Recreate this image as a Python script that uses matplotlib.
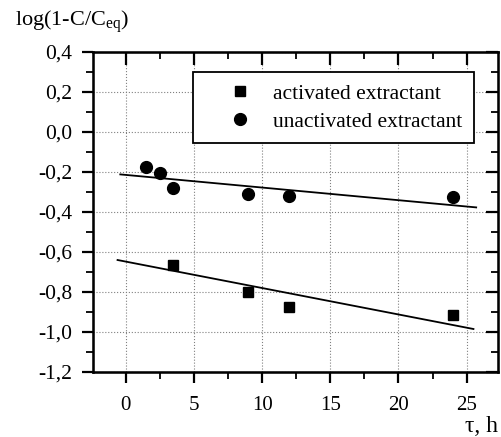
import matplotlib
matplotlib.use('Agg')
import matplotlib.pyplot as plt
from matplotlib.ticker import MultipleLocator, FuncFormatter

plt.rcParams['font.family'] = 'Liberation Serif'

# activated extractant (squares)
act_t = [3.5, 9.0, 12.0, 24.0]
act_y = [-0.665, -0.798, -0.873, -0.915]
act_fit_t = [-0.6, 25.5]
act_fit_y = [-0.64, -0.985]

# unactivated extractant (circles)
unact_t = [1.5, 2.5, 3.5, 9.0, 12.0, 24.0]
unact_y = [-0.173, -0.207, -0.28, -0.31, -0.32, -0.327]
unact_fit_t = [-0.4, 25.7]
unact_fit_y = [-0.212, -0.377]

fig = plt.figure(figsize=(5.01, 4.37), dpi=100)
ax = fig.add_axes([93/501, 1 - 372/437, (498 - 93)/501, (372 - 52)/437])

ax.plot(act_t, act_y, 's', color='black', markersize=7.5, label='activated extractant')
ax.plot(unact_t, unact_y, 'o', color='black', markersize=8.5, label='unactivated extractant')
ax.plot(act_fit_t, act_fit_y, '-', color='black', linewidth=1.3)
ax.plot(unact_fit_t, unact_fit_y, '-', color='black', linewidth=1.3)

ax.set_xlim(-2.4, 27.3)
ax.set_ylim(-1.2, 0.4)
ax.xaxis.set_major_locator(MultipleLocator(5))
ax.xaxis.set_minor_locator(MultipleLocator(2.5))
ax.yaxis.set_major_locator(MultipleLocator(0.2))
ax.yaxis.set_minor_locator(MultipleLocator(0.1))
ax.yaxis.set_major_formatter(FuncFormatter(lambda v, p: f"{v:.1f}".replace('.', ',')))
ax.xaxis.set_major_formatter(FuncFormatter(lambda v, p: f"{v:.0f}"))

ax.grid(True, which='major', linestyle=':', color='gray', linewidth=0.8)
ax.tick_params(which='both', direction='out', top=False, right=False, labelsize=15)
ax.tick_params(axis='x', which='major', pad=9)
ax.tick_params(axis='y', which='major', pad=7, labelsize=15.5)
ax.tick_params(which='major', length=8, width=1.6)
ax.tick_params(which='minor', length=5, width=1.3)
for s in ax.spines.values():
    s.set_linewidth(1.8)

# inward ticks on top and right
ax2 = ax.twinx()
ax2.set_ylim(ax.get_ylim())
ax2.yaxis.set_major_locator(MultipleLocator(0.2))
ax2.yaxis.set_minor_locator(MultipleLocator(0.1))
ax2.tick_params(which='both', direction='in', labelright=False)
ax2.tick_params(which='major', length=9, width=1.6)
ax2.tick_params(which='minor', length=5, width=1.3)
ax3 = ax.twiny()
ax3.set_xlim(ax.get_xlim())
ax3.xaxis.set_major_locator(MultipleLocator(5))
ax3.xaxis.set_minor_locator(MultipleLocator(2.5))
ax3.tick_params(which='both', direction='in', labeltop=False)
ax3.tick_params(which='major', length=9, width=1.6)
ax3.tick_params(which='minor', length=5, width=1.3)

leg = ax.legend(loc='upper right', bbox_to_anchor=(474/501, 1 - 72/437),
                bbox_transform=fig.transFigure, fontsize=15.5, frameon=True,
                fancybox=False, edgecolor='black', handletextpad=-0.12,
                borderpad=0.55, labelspacing=0.35, handlelength=3.3,
                borderaxespad=0)
leg.get_frame().set_linewidth(1.3)
leg.get_frame().set_alpha(1)

fig.text(15/501, 1 - 22/437, 'log(1-C/C$_{\\mathregular{eq}}$)', fontsize=16, va='center', ha='left')
fig.text(498/501, 1 - 426/437, 'τ, h', fontsize=17, va='center', ha='right')

fig.savefig('out.png', dpi=100)
